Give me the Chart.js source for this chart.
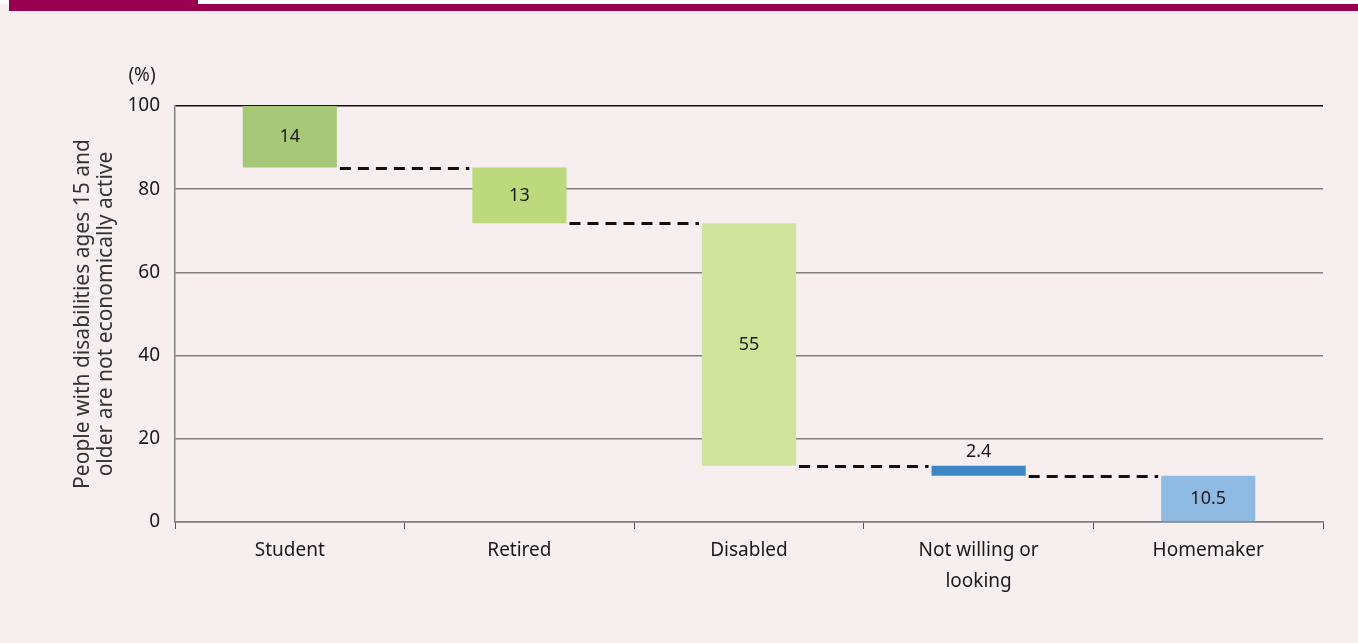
<!DOCTYPE html>
<html>
<head>
<meta charset="utf-8">
<title>Not economically active</title>
<script src="https://cdn.jsdelivr.net/npm/chart.js@4.4.0/dist/chart.umd.min.js"></script>
<style>
  html, body { margin: 0; padding: 0; background: #f6eeef; }
  #wrap { position: relative; width: 1358px; height: 643px; overflow: hidden; background: #f6eeef; }
  .strip { position: absolute; left: 0; top: 0; right: 0; height: 4px; background: #ffffff; }
  .band-thick { position: absolute; left: 9px; top: 0; width: 189px; height: 11px; background: #990050; }
  .band-thin { position: absolute; left: 198px; top: 4px; right: 0; height: 7px; background: #990050; }
  canvas { position: absolute; left: 0; top: 0; }
</style>
</head>
<body>
<div id="wrap">
  <div class="strip"></div>
  <div class="band-thick"></div>
  <div class="band-thin"></div>
  <canvas id="chart" width="1358" height="643"></canvas>
</div>
<script>
// data
const categories = ["Student", "Retired", "Disabled", ["Not willing or", "looking"], "Homemaker"];
const barTops = [100, 85.2, 71.8, 13.5, 11.1];
const barBottoms = [85.2, 71.8, 13.5, 11.1, 0];
const barLabels = ["14", "13", "55", "2.4", "10.5"];
const yTicks = [0, 20, 40, 60, 80, 100];
const yTitle = ["People with disabilities ages 15 and", "older are not economically active"];

const barColors = ["#a7c878", "#bcd97c", "#d0e39b", "#3d87c6", "#8fbbe2"];
const FONT = "'Noto Sans', 'DejaVu Sans', sans-serif";

// dashed connectors, value labels and the (%) unit
const waterfallExtras = {
  id: "waterfallExtras",
  afterDatasetsDraw(chart) {
    const ctx = chart.ctx;
    const meta = chart.getDatasetMeta(0);
    const y = chart.scales.y;
    ctx.save();
    ctx.strokeStyle = "#111";
    ctx.lineWidth = 3;
    ctx.setLineDash([11, 7]);
    for (let i = 0; i < meta.data.length - 1; i++) {
      const a = meta.data[i], b = meta.data[i + 1];
      const py = Math.round(y.getPixelForValue(barBottoms[i])) + 0.5;
      ctx.beginPath();
      ctx.moveTo(a.x + a.width / 2 + 3, py);
      ctx.lineTo(b.x - b.width / 2 - 3, py);
      ctx.stroke();
    }
    ctx.setLineDash([]);

    ctx.fillStyle = "#1a1a1a";
    ctx.font = "18px " + FONT;
    ctx.textAlign = "center";
    ctx.textBaseline = "middle";
    meta.data.forEach((bar, i) => {
      const top = y.getPixelForValue(barTops[i]);
      const bottom = y.getPixelForValue(barBottoms[i]);
      if (bottom - top > 24) {
        ctx.fillText(barLabels[i], bar.x, (top + bottom) / 2);
      } else {
        ctx.fillText(barLabels[i], bar.x, top - 14);
      }
    });

    ctx.font = "19px " + FONT;
    ctx.fillStyle = "#222";
    ctx.fillText("(%)", chart.chartArea.left - 33, chart.chartArea.top - 30);
    ctx.restore();
  }
};

new Chart(document.getElementById("chart"), {
  type: "bar",
  data: {
    labels: categories,
    datasets: [{
      data: barBottoms.map((b, i) => [b, barTops[i]]),
      backgroundColor: barColors,
      borderWidth: 0,
      barPercentage: 0.41,
      categoryPercentage: 1
    }]
  },
  options: {
    responsive: false,
    animation: false,
    layout: { padding: { left: 71, top: 106, right: 35, bottom: 0 } },
    plugins: { legend: { display: false }, tooltip: { enabled: false } },
    scales: {
      x: {
        afterFit(scale) { scale.height = 121; },
        border: { color: "#808080", width: 1.5 },
        grid: { drawOnChartArea: false, drawTicks: true, tickLength: 7, color: "#555", offset: true },
        ticks: { color: "#1a1a1a", padding: 6, maxRotation: 0, font: { family: FONT, size: 19, lineHeight: 1.65 } }
      },
      y: {
        min: 0,
        max: 100,
        afterFit(scale) { scale.width = 104; },
        afterBuildTicks(scale) { scale.ticks = yTicks.map(v => ({ value: v })); },
        border: { color: "#808080", width: 1.5 },
        grid: {
          drawTicks: false,
          lineWidth: 1.5,
          color: c => (c.tick && c.tick.value === 100 ? "#111" : "#808080")
        },
        ticks: { color: "#1a1a1a", padding: 15, font: { family: FONT, size: 19 } },
        title: {
          display: true,
          text: yTitle,
          color: "#333",
          padding: { top: 0, bottom: 0 },
          font: { family: FONT, size: 21, lineHeight: 1.1 }
        }
      }
    }
  },
  plugins: [waterfallExtras]
});
</script>
</body>
</html>
